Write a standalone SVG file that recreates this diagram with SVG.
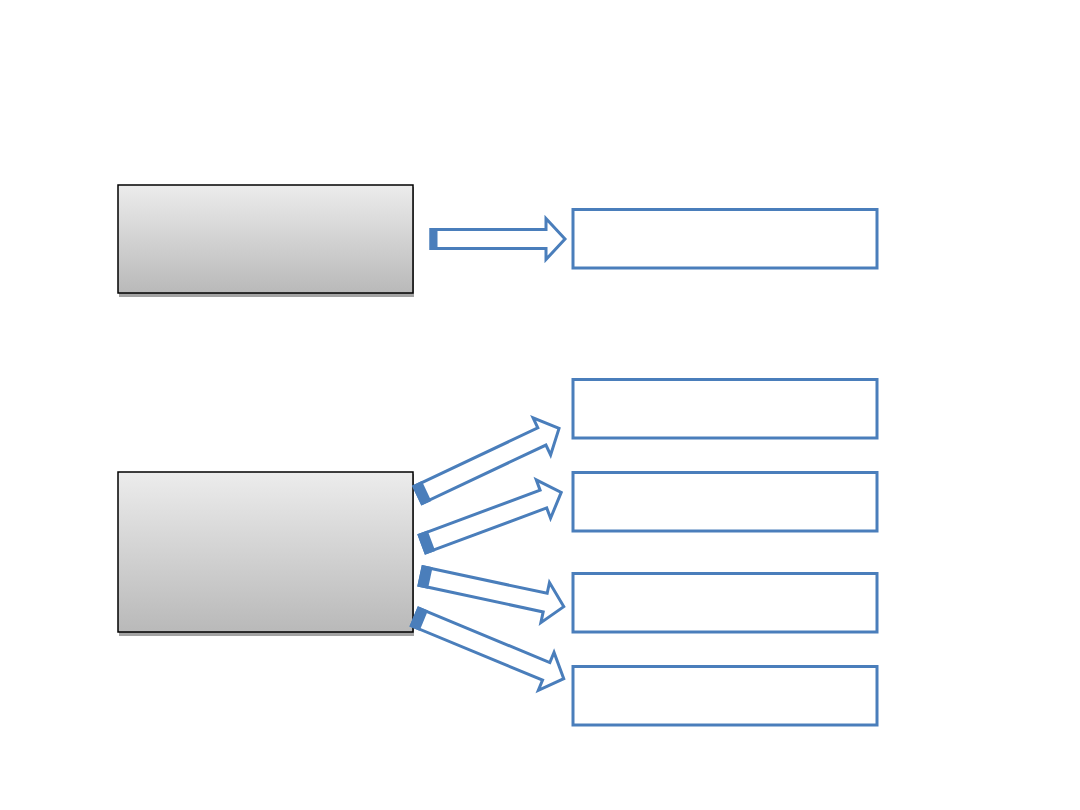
<svg xmlns="http://www.w3.org/2000/svg" width="1080" height="810" viewBox="0 0 1080 810">
<defs>
<linearGradient id="g" x1="0" y1="0" x2="0" y2="1">
<stop offset="0" stop-color="#ececec"/>
<stop offset="1" stop-color="#b9b9b9"/>
</linearGradient>
</defs>
<style>
.src{fill:url(#g);stroke:#000;stroke-width:1.5}
.sh{fill:#a3a3a3}
.box{fill:#fff;stroke:#4a7ebb;stroke-width:3}
.ar{fill:#fff;stroke:#4a7ebb;stroke-width:3;stroke-linejoin:miter}
.tl{fill:#4a7ebb}
</style>
<rect width="1080" height="810" fill="#fff"/>
<g id="source1">
<rect class="sh" x="119" y="187" width="295" height="110"/>
<rect class="src" x="118" y="185" width="295" height="108"/>
</g>
<g id="source2">
<rect class="sh" x="119" y="474" width="295" height="162"/>
<rect class="src" x="118" y="472" width="295" height="160"/>
</g>
<g id="target1"><rect class="box" x="573" y="209.5" width="304" height="58.5"/></g>
<g id="target2"><rect class="box" x="573" y="379.5" width="304" height="58.5"/></g>
<g id="target3"><rect class="box" x="573" y="472.5" width="304" height="58.5"/></g>
<g id="target4"><rect class="box" x="573" y="573.5" width="304" height="58.5"/></g>
<g id="target5"><rect class="box" x="573" y="666.5" width="304" height="58.5"/></g>
<g id="connectors">
<g transform="translate(431,239)">
<path class="ar" d="M0,-9.5 H115 V-20.5 L134,0 L115,20.5 V9.5 H0 Z"/>
<rect class="tl" x="-1.5" y="-11" width="8" height="22"/>
</g>
<g transform="translate(418,495) rotate(-25.3)">
<path class="ar" d="M0,-9.5 H137 V-20.5 L156,0 L137,20.5 V9.5 H0 Z"/>
<rect class="tl" x="-1.5" y="-11" width="11" height="22"/>
</g>
<g transform="translate(422.5,544) rotate(-20.4)">
<path class="ar" d="M0,-9.5 H129 V-20.5 L148,0 L129,20.5 V9.5 H0 Z"/>
<rect class="tl" x="-1.5" y="-11" width="11" height="22"/>
</g>
<g transform="translate(421,576) rotate(12.1)">
<path class="ar" d="M0,-9.5 H127 V-20.5 L146,0 L127,20.5 V9.5 H0 Z"/>
<rect class="tl" x="-1.5" y="-11" width="11" height="22"/>
</g>
<g transform="translate(415,617) rotate(22.5)">
<path class="ar" d="M0,-9.5 H142 V-20.5 L161,0 L142,20.5 V9.5 H0 Z"/>
<rect class="tl" x="-1.5" y="-11" width="11" height="22"/>
</g>
</g>
</svg>
